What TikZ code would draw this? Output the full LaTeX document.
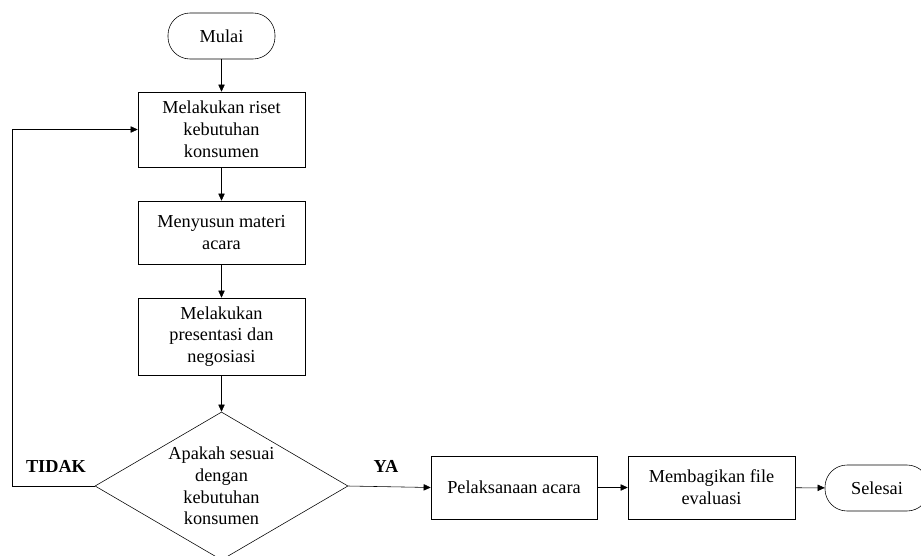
\documentclass[tikz,border=0pt]{standalone}
\usepackage{fontspec}
\setmainfont{Liberation Serif}
\usetikzlibrary{arrows.meta,shapes.geometric}
\tikzset{>={Triangle[length=5pt,width=4.5pt]},line width=1.5pt,
  every node/.style={font=\fontsize{13}{15.5}\selectfont},
  proses/.style={draw,rectangle,align=center,minimum width=4.175cm,inner sep=2pt},
  terminal/.style={draw,rectangle,rounded corners=.55cm,minimum width=2.675cm,minimum height=1.15cm},
  keputusan/.style={draw,diamond,align=center,aspect=1.71,inner sep=0pt,
    minimum width=6.325cm,minimum height=3.7cm},
  jawab/.style={font=\bfseries\fontsize{13}{15.5}\selectfont}}
\begin{document}
\begin{tikzpicture}
\useasboundingbox (0,0) rectangle (23.025,-13.875);
\node[terminal] (mulai) at (5.5375,-.9) {Mulai};
\node[proses,minimum height=1.875cm] (riset) at (5.5375,-3.2375) {Melakukan riset\\kebutuhan\\konsumen};
\node[proses,minimum height=1.575cm] (materi) at (5.5375,-5.8125) {Menyusun materi\\acara};
\node[proses,minimum height=1.925cm] (presentasi) at (5.5375,-8.4125) {Melakukan\\presentasi dan\\negosiasi};
\node[keputusan] (cek) at (5.5375,-12.15) {Apakah sesuai\\dengan\\kebutuhan\\konsumen};
\node[proses,minimum width=4.15cm,minimum height=1.575cm] (acara) at (12.85,-12.1875) {Pelaksanaan acara};
\node[proses,minimum height=1.575cm] (evaluasi) at (17.7875,-12.1875) {Membagikan file\\evaluasi};
\node[terminal,minimum width=2.6cm] (selesai) at (21.925,-12.2) {Selesai};
\node[jawab] (tidak) at (1.4,-11.65) {TIDAK};
\node[jawab] (ya) at (9.65,-11.65) {YA};
\draw[->] (mulai)--(riset);\draw[->] (riset)--(materi);
\draw[->] (materi)--(presentasi);\draw[->] (presentasi)--(cek);
\draw[->] (cek.east)--(acara.west);\draw[->] (acara)--(evaluasi);
\draw[->] (evaluasi)--(selesai);
\draw[->] (cek.west)--++(-2.05,0) |- (riset.west);
\end{tikzpicture}
\end{document}
